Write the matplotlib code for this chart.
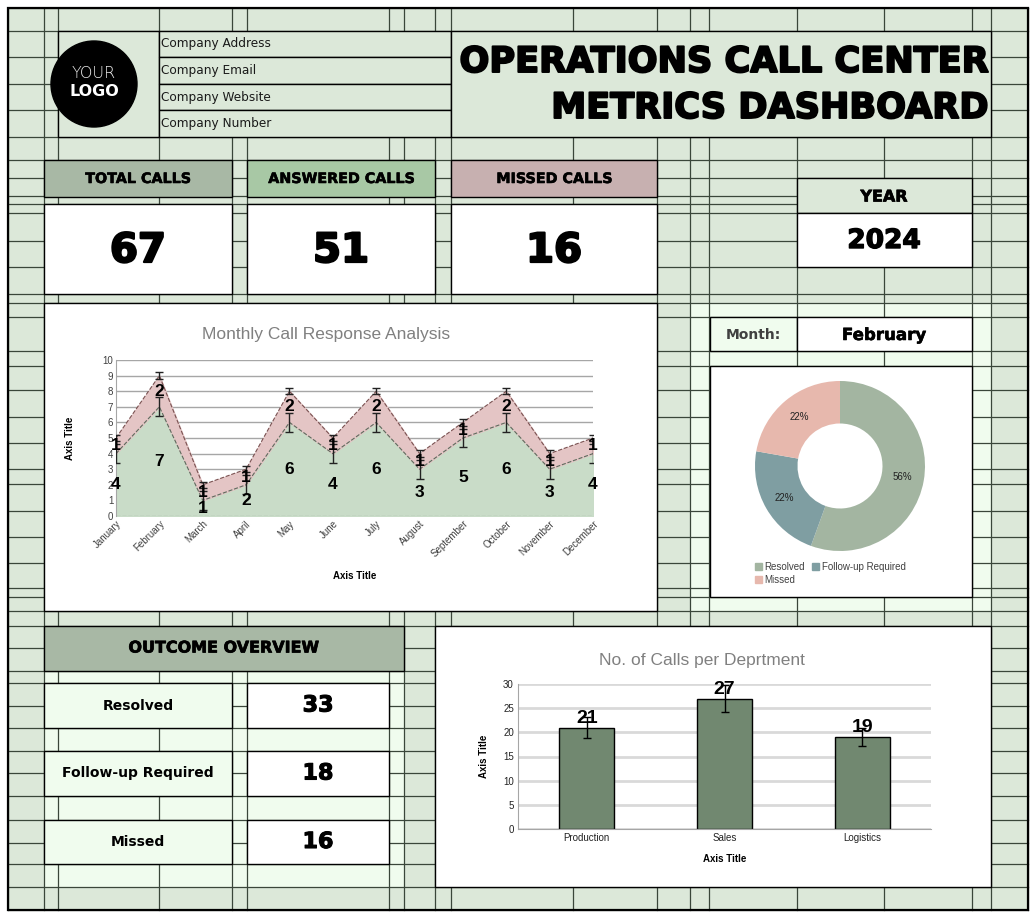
"""Operations call center metrics dashboard, drawn as a spreadsheet-like sheet."""

import matplotlib
matplotlib.use('Agg')
import matplotlib.pyplot as plt
import matplotlib.patheffects as pe
from matplotlib.patches import Rectangle, Circle, Patch

W, H = 1036, 919

# ---- data ----
months = ['January', 'February', 'March', 'April', 'May', 'June', 'July',
          'August', 'September', 'October', 'November', 'December']
answered = [4, 7, 1, 2, 6, 4, 6, 3, 5, 6, 3, 4]
missed = [1, 2, 1, 1, 2, 1, 2, 1, 1, 2, 1, 1]
answered_err = 0.6
missed_err = 0.2

kpi_labels = ['TOTAL CALLS', 'ANSWERED CALLS', 'MISSED CALLS']
kpi_values = [67, 51, 16]
year = 2024
month = 'February'

outcome_labels = ['Resolved', 'Follow-up Required', 'Missed']
outcome_values = [33, 18, 16]
month_outcome = [5, 2, 2]  # split for the selected month (donut)

departments = ['Production', 'Sales', 'Logistics']
dept_calls = [21, 27, 19]
dept_err = [2.1, 2.7, 1.9]

company_lines = ['Company Address', 'Company Email', 'Company Website',
                 'Company Number']

# ---- sheet layout (pixels) ----
cols = [8, 44, 58, 159, 232, 247, 389, 404, 435, 451, 573, 657, 690, 709,
        797, 884, 972, 991, 1028]
rows = [8, 31, 57, 84, 110, 137, 160, 178, 196, 204, 213, 241, 267, 294,
        303, 317, 351, 366, 390, 417, 443, 469, 484, 511, 537, 563, 588, 597,
        611, 626, 648, 671, 683, 706, 728, 751, 773, 796, 820, 843, 864, 887,
        910]

bg = '#dce8d9'
pale = '#f0fcee'
line_c = '#3a463a'
hdr_grey = '#a8b8a5'
hdr_green = '#a8c8a5'
hdr_pink = '#c7b0b0'
heavy = 'DejaVu Sans'

plt.rcParams['font.family'] = ['Liberation Sans', 'DejaVu Sans']

fig = plt.figure(figsize=(W / 100, H / 100), dpi=100)
fig.patch.set_facecolor('white')

sheet = fig.add_axes([0, 0, 1, 1])
sheet.set_xlim(0, W)
sheet.set_ylim(H, 0)
sheet.axis('off')


def block(x0, y0, x1, y1, fc, ec='black', lw=1.0, z=3):
    sheet.add_patch(Rectangle((x0, y0), x1 - x0, y1 - y0, facecolor=fc,
                              edgecolor=ec, linewidth=lw, zorder=z))


def bold_text(x, y, s, size, stroke=0.0, color='black', ha='center'):
    # DejaVu bold plus a thin outline, to get close to a black-weight face
    effects = [pe.withStroke(linewidth=stroke, foreground=color)] if stroke else None
    sheet.text(x, y, s, fontsize=size, family=heavy, weight='bold',
               color=color, ha=ha, va='center', zorder=5,
               path_effects=effects)


def px_axes(x0, y0, x1, y1):
    return fig.add_axes([x0 / W, 1 - y1 / H, (x1 - x0) / W, (y1 - y0) / H])


# background and pale zones
block(cols[0], rows[0], cols[-1], rows[-1], bg, ec='none', z=0)
block(690, 303, 991, 611, pale, ec='none', z=0.5)
block(44, 671, 404, 887, pale, ec='none', z=0.5)

# cell grid
for x in cols:
    sheet.plot([x, x], [rows[0], rows[-1]], color=line_c, lw=0.9, zorder=1)
for y in rows:
    sheet.plot([cols[0], cols[-1]], [y, y], color=line_c, lw=0.9, zorder=1)

# header: logo, company info, title
block(58, 31, 159, 137, bg)
sheet.add_patch(Circle((94, 84), 43, color='black', zorder=4))
sheet.text(94, 74, 'YOUR', color='#e8e8e8', fontsize=11.5, ha='center',
           va='center', family='DejaVu Sans', weight='light', zorder=5)
sheet.text(94, 92, 'LOGO', color='white', fontsize=11.5, ha='center',
           va='center', family=heavy, weight='bold', zorder=5)
for i, txt in enumerate(company_lines):
    y0, y1 = rows[1 + i], rows[2 + i]
    block(159, y0, 451, y1, bg)
    sheet.text(161, (y0 + y1) / 2, txt, fontsize=8.7, family='DejaVu Sans',
               va='center', ha='left', color='#1a1a1a', zorder=5)
block(451, 31, 991, 137, bg)
bold_text(989, 62, 'OPERATIONS CALL CENTER', 25.3, stroke=1.4, ha='right')
bold_text(989, 108, 'METRICS DASHBOARD', 25.3, stroke=1.4, ha='right')

# KPI cards
kpi_boxes = [(44, 232, hdr_grey), (247, 435, hdr_green), (451, 657, hdr_pink)]
for (x0, x1, fc), lab, val in zip(kpi_boxes, kpi_labels, kpi_values):
    block(x0, 160, x1, 197, fc)
    bold_text((x0 + x1) / 2, 179, lab, 10.3, stroke=0.4)
    block(x0, 204, x1, 294, 'white')
    bold_text((x0 + x1) / 2, 251, str(val), 29, stroke=1.6)

block(797, 178, 972, 213, bg)
bold_text(884, 197, 'YEAR', 11.5, stroke=0.5)
block(797, 213, 972, 267, 'white')
bold_text(884, 241, str(year), 19, stroke=1.0)

# month selector
block(710, 317, 797, 351, pale)
bold_text(753, 335, 'Month:', 10, color='#404040')
block(797, 317, 972, 351, 'white')
bold_text(884, 335, month, 12, stroke=0.4)

# outcome overview
block(44, 626, 404, 671, hdr_grey)
bold_text(224, 648, 'OUTCOME OVERVIEW', 11.5, stroke=0.5)
out_rows = [(683, 728), (751, 796), (820, 864)]
for (y0, y1), lab, val in zip(out_rows, outcome_labels, outcome_values):
    block(44, y0, 232, y1, pale)
    bold_text(138, (y0 + y1) / 2, lab, 10)
    block(247, y0, 389, y1, 'white')
    bold_text(318, (y0 + y1) / 2, str(val), 16, stroke=0.8)

# chart panels
block(44, 303, 657, 611, 'white')
block(710, 366, 972, 597, 'white')
block(435, 626, 991, 887, 'white')
block(cols[0], rows[0], cols[-1], rows[-1], 'none', lw=1.6, z=6)

sheet.text(326, 334, 'Monthly Call Response Analysis', fontsize=12.5,
           color='#808080', ha='center', va='center', zorder=5)
sheet.text(702, 660, 'No. of Calls per Deprtment', fontsize=12.5,
           color='#808080', ha='center', va='center', zorder=5)

# ---- monthly stacked area ----
ax = px_axes(116, 360, 593, 516)
xs = list(range(len(months)))
totals = [a + m for a, m in zip(answered, missed)]
ax.fill_between(xs, 0, answered, color='#c9dcc8', zorder=1)
ax.fill_between(xs, answered, totals, color='#e4c5c5', zorder=1)
ax.plot(xs, answered, ls='--', color='#5d6b5d', lw=0.8, zorder=2)
ax.plot(xs, totals, ls='--', color='#7a5252', lw=0.8, zorder=2)
ax.plot([0, 11], [0, 0], ls='--', color='#5d6b5d', lw=0.8, zorder=2)
ax.errorbar(xs, answered, yerr=answered_err, fmt='none', ecolor='#222222',
            elinewidth=1, capsize=3, zorder=3)
ax.errorbar(xs, totals, yerr=missed_err, fmt='none', ecolor='#222222',
            elinewidth=1, capsize=3, zorder=3)
for x, a, t, m in zip(xs, answered, totals, missed):
    ax.text(x, a / 2, str(a), fontsize=12.5, weight='bold', ha='center',
            va='center', zorder=4)
    ax.text(x, (a + t) / 2, str(m), fontsize=12.5, weight='bold', ha='center',
            va='center', zorder=4)
ax.set_xlim(0, 11)
ax.set_ylim(0, 10)
ax.set_yticks(range(0, 11))
ax.set_xticks(xs)
ax.set_xticklabels(months, rotation=45, ha='right', rotation_mode='anchor')
ax.tick_params(labelsize=7, colors='#404040', length=0, pad=2)
ax.grid(axis='y', color='#a6a6a6', lw=1)
ax.set_axisbelow(True)
for s in ['top', 'right']:
    ax.spines[s].set_visible(False)
ax.spines['left'].set_color('#a6a6a6')
ax.spines['bottom'].set_visible(False)
ax.set_ylabel('Axis Title', fontsize=7, weight='bold', labelpad=20)
ax.set_xlabel('Axis Title', fontsize=7, weight='bold', labelpad=8)
ax.patch.set_alpha(0)

# ---- donut ----
dax = px_axes(755, 381, 925, 551)
dcolors = ['#a3b5a1', '#7f9ea2', '#e7b8ad']
wedges, _, autot = dax.pie(month_outcome, colors=dcolors, startangle=90,
                           counterclock=False, radius=1, autopct='%.0f%%',
                           pctdistance=0.75,
                           wedgeprops=dict(width=0.5, edgecolor='none'),
                           textprops=dict(fontsize=7, color='#222222'))
dax.set_xlim(-1, 1)
dax.set_ylim(-1, 1)
handles = [Patch(color=dcolors[0], label=outcome_labels[0]),
           Patch(color=dcolors[2], label=outcome_labels[2]),
           Patch(color=dcolors[1], label=outcome_labels[1])]
fig.legend(handles=handles, ncol=2, loc='upper left',
           bbox_to_anchor=(750 / W, 1 - 557 / H), frameon=False, fontsize=7,
           handlelength=0.7, handleheight=0.7, handletextpad=0.3,
           columnspacing=0.7, labelspacing=0.3, borderpad=0,
           labelcolor='#404040')

# ---- department bars ----
bax = px_axes(518, 684, 931, 829)
bx = list(range(len(departments)))
bax.bar(bx, dept_calls, width=0.4, color='#718870', edgecolor='black',
        lw=1, zorder=2)
bax.errorbar(bx, dept_calls, yerr=dept_err, fmt='none', ecolor='black',
             elinewidth=1, capsize=3, zorder=3)
for x, v in zip(bx, dept_calls):
    bax.text(x, v + 0.2, str(v), fontsize=14, weight='bold', ha='center',
             va='bottom', zorder=4)
bax.set_xlim(-0.5, 2.5)
bax.set_ylim(0, 30)
bax.set_yticks(range(0, 31, 5))
bax.set_xticks(bx)
bax.set_xticklabels(departments)
bax.tick_params(labelsize=7, colors='#222222', length=0, pad=3)
bax.grid(axis='y', color='#d9d9d9', lw=2)
bax.set_axisbelow(True)
for s in ['top', 'right']:
    bax.spines[s].set_visible(False)
bax.spines['left'].set_color('#a6a6a6')
bax.spines['bottom'].set_color('#a6a6a6')
bax.set_ylabel('Axis Title', fontsize=7, weight='bold', labelpad=10)
bax.set_xlabel('Axis Title', fontsize=7, weight='bold', labelpad=8)
bax.patch.set_alpha(0)

fig.savefig('out.png', dpi=100)
